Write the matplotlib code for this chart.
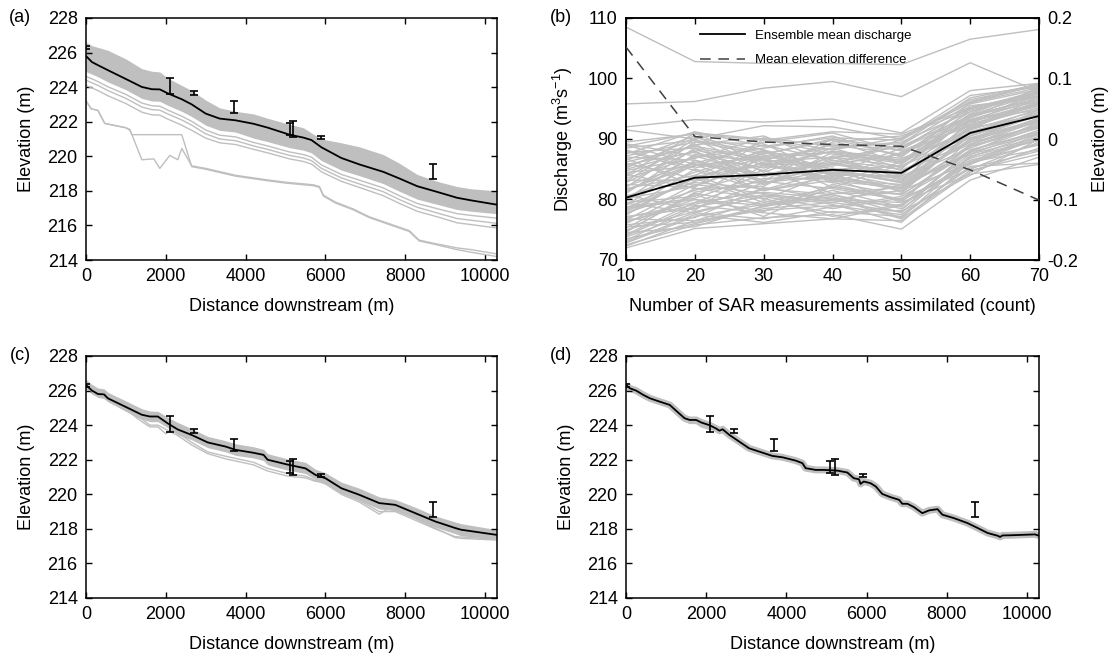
import matplotlib
matplotlib.use("Agg")
import matplotlib.pyplot as plt
from matplotlib.lines import Line2D

plt.rcParams['font.family'] = ['Liberation Sans', 'DejaVu Sans']
plt.rcParams['mathtext.default'] = 'regular'
plt.rcParams['axes.unicode_minus'] = False

# ---------------- data ----------------
DIST_A = [0, 150, 300, 550, 1000, 1400, 1650, 1850, 2050, 2400, 2650, 3000, 3350, 3750, 4200,
          4550, 5100, 5450, 5650, 5900, 6400, 6850, 7450, 7850, 8300, 8800, 9300, 9650, 10300]
MEAN_A = [225.80, 225.45, 225.27, 224.98, 224.47, 224.01, 223.88, 223.87, 223.64, 223.30, 223.0,
          222.47, 222.18, 222.08, 221.88, 221.66, 221.25, 221.08, 220.94, 220.52, 219.90, 219.53,
          219.10, 218.72, 218.27, 217.94, 217.60, 217.45, 217.2]
UPPER_A = [226.6, 226.4, 226.3, 226.13, 225.63, 225.07, 224.92, 224.88, 224.52, 224.1, 223.8,
           223.25, 222.8, 222.6, 222.45, 222.2, 221.85, 221.65, 221.35, 221.0, 220.78, 220.55,
           220.1, 219.6, 218.95, 218.55, 218.25, 218.12, 218.0]
LOWER_A = [224.9, 224.75, 224.6, 224.3, 223.85, 223.35, 223.2, 223.18, 222.95, 222.6, 222.3,
           221.8, 221.5, 221.4, 221.05, 220.85, 220.5, 220.35, 220.2, 219.75, 219.2, 218.88,
           218.42, 217.98, 217.52, 217.22, 216.92, 216.82, 216.68]
MEMBER_A1 = [224.62, 224.48, 224.32, 224.02, 223.58, 223.08, 222.92, 222.9, 222.67, 222.32, 222.02,
             221.52, 221.22, 221.12, 220.8, 220.6, 220.25, 220.1, 219.95, 219.5, 218.95, 218.62,
             218.17, 217.72, 217.27, 216.97, 216.68, 216.58, 216.42]
MEMBER_A2 = [224.4, 224.25, 224.1, 223.8, 223.35, 222.85, 222.7, 222.67, 222.45, 222.1, 221.8,
             221.3, 221.0, 220.9, 220.6, 220.4, 220.05, 219.9, 219.75, 219.3, 218.75, 218.4,
             217.95, 217.5, 217.05, 216.72, 216.4, 216.3, 216.12]
MEMBER_A3 = [224.1, 223.95, 223.8, 223.5, 223.05, 222.55, 222.4, 222.38, 222.15, 221.8, 221.5,
             221.05, 220.78, 220.68, 220.4, 220.2, 219.85, 219.7, 219.55, 219.1, 218.55, 218.2,
             217.72, 217.28, 216.82, 216.5, 216.15, 216.05, 215.85]
OUT1_X = [0, 130, 300, 470, 1000, 1100, 1150, 2400, 2650, 3000, 3750, 4500, 5000, 5700, 5850,
          5950, 6250, 6700, 7100, 7600, 8100, 8350, 8750, 9300, 9650, 10300]
OUT1_Y = [223.2, 222.75, 222.65, 221.9, 221.65, 221.5, 221.25, 221.25, 219.4, 219.25, 218.85,
          218.6, 218.45, 218.3, 218.2, 217.7, 217.3, 216.9, 216.45, 216.05, 215.65, 215.1,
          214.9, 214.6, 214.45, 214.2]
OUT2_X = [0, 130, 300, 470, 1000, 1100, 1400, 1700, 1850, 2100, 2300, 2400, 2650, 3000, 3750,
          4500, 5000, 5700, 5850, 5950, 6250, 6700, 7100, 7600, 8100, 8350, 8750, 9300, 9650, 10300]
OUT2_Y = [223.2, 222.75, 222.65, 221.9, 221.65, 221.55, 219.8, 219.85, 219.3, 220.05, 219.8,
          220.45, 219.45, 219.3, 218.9, 218.65, 218.5, 218.35, 218.25, 217.75, 217.35, 216.95,
          216.5, 216.1, 215.7, 215.15, 214.95, 214.7, 214.6, 214.35]

DIST_C = [0, 150, 300, 450, 550, 1000, 1400, 1600, 1800, 2050, 2300, 2650, 3050, 3500, 3750,
          4200, 4450, 4550, 5050, 5500, 5750, 6000, 6400, 6850, 7350, 7750, 8250, 8750, 9250,
          9400, 10300]
MEAN_C = [226.32, 226.0, 225.8, 225.78, 225.55, 225.05, 224.6, 224.5, 224.5, 224.1, 223.75,
          223.43, 223.0, 222.76, 222.57, 222.4, 222.28, 222.0, 221.72, 221.5, 221.12, 220.93,
          220.35, 219.97, 219.49, 219.39, 218.91, 218.43, 218.05, 217.95, 217.65]
UPPER_C = [226.65, 226.35, 226.15, 226.1, 225.9, 225.4, 224.95, 224.82, 224.8, 224.45, 224.15,
           223.8, 223.35, 223.1, 222.92, 222.75, 222.6, 222.35, 222.05, 221.85, 221.45, 221.25,
           220.7, 220.35, 219.85, 219.7, 219.25, 218.75, 218.4, 218.3, 217.95]
LOWER_C = [226.1, 225.8, 225.6, 225.55, 225.35, 224.8, 224.35, 224.2, 224.2, 223.85, 223.45,
           223.15, 222.7, 222.45, 222.25, 222.1, 221.95, 221.7, 221.4, 221.2, 220.85, 220.62,
           220.05, 219.65, 219.15, 219.05, 218.6, 218.1, 217.72, 217.6, 217.4]
MEMBER_C1_X = [0, 1000, 1400, 1600, 1800, 2000, 2150, 2300, 2650, 3050, 3500, 4200, 4550, 5050,
               5500, 5750, 6000, 6400, 6850, 7350, 7600, 7750, 8250, 8750, 9250, 9400, 10300]
MEMBER_C1_Y = [226.2, 224.9, 224.2, 223.9, 223.9, 223.5, 223.7, 223.55, 223.0, 222.45, 222.2,
               221.85, 221.5, 221.2, 221.05, 220.8, 220.6, 220.0, 219.55, 218.85, 219.2, 219.1,
               218.6, 218.05, 217.5, 217.45, 217.35]
MEMBER_C2_X = [0, 1000, 1400, 1600, 1800, 2050, 2300, 2650, 3050, 3500, 4200, 4550, 5050, 5500,
               5750, 6000, 6400, 6850, 7350, 7750, 8250, 8750, 9250, 10300]
MEMBER_C2_Y = [226.15, 224.85, 224.35, 224.0, 224.0, 223.7, 223.4, 222.85, 222.35, 222.05,
               221.7, 221.35, 221.05, 220.95, 220.75, 220.7, 220.1, 219.65, 219.0, 219.0, 218.5,
               218.0, 217.55, 217.4]

DIST_D = [0, 100, 260, 430, 600, 840, 1090, 1300, 1460, 1590, 1750, 1880, 2080, 2250, 2330, 2410,
          2580, 2740, 3070, 3400, 3650, 3900, 4230, 4400, 4480, 4730, 4930, 5270, 5520, 5680,
          5810, 5850, 5930, 6100, 6230, 6390, 6600, 6810, 6890, 7020, 7180, 7390, 7560, 7770,
          7890, 8180, 8520, 8770, 9020, 9270, 9330, 9390, 9600, 10200, 10300]
MEAN_D = [226.32, 226.13, 225.99, 225.75, 225.55, 225.36, 225.17, 224.73, 224.4, 224.3, 224.3,
          224.15, 224.0, 223.8, 223.68, 223.76, 223.43, 223.18, 222.66, 222.41, 222.22, 222.14,
          221.95, 221.8, 221.51, 221.41, 221.41, 221.37, 221.26, 220.93, 220.87, 220.6, 220.74,
          220.64, 220.45, 220.02, 219.83, 219.68, 219.45, 219.45, 219.26, 218.91, 219.07, 219.14,
          218.82, 218.62, 218.33, 218.05, 217.76, 217.6, 217.53, 217.62, 217.63, 217.68, 217.6]
MEMBER_D1_X = [1300, 1460, 1590, 1750, 1880, 2080, 2250, 2330, 2410, 2580, 2740]
MEMBER_D1_Y = [224.65, 224.25, 224.1, 224.1, 223.9, 223.75, 223.75, 223.5, 223.6, 223.3, 223.05]

OBS_X = [0, 2100, 2700, 3700, 5100, 5200, 5900, 8700]
OBS_Y = [226.3, 224.08, 223.67, 222.86, 221.6, 221.57, 221.1, 219.13]
OBS_ERR = [0.07, 0.45, 0.1, 0.33, 0.35, 0.47, 0.1, 0.45]

N_SAR = [10, 20, 30, 40, 50, 60, 70]
Q_MEAN = [80.3, 83.6, 84.1, 84.9, 84.4, 91.0, 93.8]
ELEV_DIFF = [0.152, 0.004, -0.005, -0.009, -0.012, -0.051, -0.101]
Q_MEMBERS = [
    [72.0, 75.2, 76.0, 76.8, 76.5, 84.5, 88.5], [72.5, 75.8, 77.0, 77.5, 75.1, 83.2, 87.0],
    [73.0, 77.5, 76.2, 78.0, 77.2, 85.5, 86.0], [73.5, 76.0, 78.5, 79.5, 78.0, 84.0, 90.0],
    [74.0, 79.0, 77.8, 76.8, 79.0, 86.5, 89.0], [74.5, 75.5, 79.0, 80.5, 77.0, 87.0, 91.0],
    [75.0, 78.0, 80.5, 78.5, 80.2, 85.0, 89.5], [75.3, 81.0, 79.2, 81.5, 78.8, 88.0, 92.0],
    [75.8, 77.0, 82.0, 80.0, 81.5, 86.0, 90.5], [76.2, 80.0, 78.0, 82.5, 80.0, 89.0, 93.0],
    [76.6, 82.5, 81.0, 79.5, 82.5, 87.5, 91.5], [77.0, 79.5, 83.5, 83.5, 79.5, 90.0, 94.0],
    [77.4, 84.0, 80.0, 84.5, 83.5, 88.5, 92.5], [77.8, 81.5, 84.8, 81.0, 81.0, 91.0, 95.0],
    [78.2, 85.0, 82.5, 86.0, 84.5, 89.5, 93.5], [78.6, 83.0, 86.0, 83.0, 82.0, 92.0, 96.0],
    [79.0, 86.5, 83.8, 87.0, 85.5, 90.5, 94.5], [79.5, 80.5, 87.2, 85.0, 83.0, 93.0, 95.5],
    [80.0, 87.5, 85.2, 88.0, 86.5, 91.5, 97.0], [80.5, 84.5, 88.0, 84.0, 84.0, 94.0, 96.5],
    [81.0, 88.5, 86.5, 89.0, 87.5, 92.5, 98.0], [81.5, 86.0, 89.0, 86.5, 85.0, 95.0, 97.5],
    [82.0, 89.5, 87.5, 90.0, 88.5, 93.5, 98.5], [82.5, 82.0, 90.0, 87.5, 86.0, 96.0, 99.0],
    [83.0, 90.0, 84.5, 88.5, 89.5, 94.5, 97.8], [83.5, 87.0, 88.5, 90.5, 87.0, 95.5, 96.8],
    [84.0, 91.0, 86.0, 85.5, 90.0, 96.5, 98.8], [84.5, 85.5, 89.5, 91.0, 88.0, 92.8, 95.8],
    [85.0, 88.0, 83.0, 89.5, 90.5, 94.8, 97.2], [85.5, 89.0, 90.5, 86.0, 89.0, 95.8, 98.2],
    [86.0, 83.5, 87.0, 82.0, 85.8, 93.2, 94.8], [86.5, 90.5, 85.5, 88.0, 86.8, 90.8, 93.8],
    [87.0, 86.5, 82.8, 84.8, 82.8, 89.8, 92.8], [87.5, 91.2, 88.8, 90.2, 89.8, 96.2, 99.2],
    [88.0, 84.8, 81.5, 83.8, 81.8, 88.8, 91.8], [88.5, 89.8, 87.8, 86.8, 88.8, 93.8, 96.2],
    [89.0, 85.8, 84.2, 82.8, 80.8, 87.8, 90.8], [89.5, 90.8, 89.8, 91.2, 90.8, 95.2, 97.6],
    [73.2, 78.8, 80.8, 79.2, 76.2, 86.2, 88.2], [74.8, 80.8, 77.2, 82.2, 79.8, 85.8, 90.2],
    [76.8, 76.5, 79.8, 77.8, 78.2, 88.2, 91.2], [79.2, 82.8, 81.8, 80.8, 77.8, 87.2, 89.8],
    [80.8, 78.2, 85.8, 84.2, 83.8, 89.2, 92.2], [82.2, 86.2, 83.2, 85.2, 81.2, 91.2, 94.2],
    [84.2, 81.8, 82.2, 87.8, 84.8, 90.2, 93.2], [86.2, 88.8, 86.8, 83.2, 87.8, 92.2, 95.2],
    [72.3, 76.5, 78.2, 79.0, 77.5, 85.2, 88.0], [73.8, 77.8, 76.8, 78.8, 80.5, 86.8, 89.8],
    [74.2, 79.5, 81.2, 80.2, 76.8, 84.8, 87.5], [75.5, 76.2, 78.8, 81.0, 82.0, 87.8, 92.8],
    [76.0, 81.8, 80.2, 77.2, 79.2, 86.2, 90.8], [77.2, 78.5, 82.8, 84.0, 81.8, 90.5, 93.8],
    [78.0, 83.5, 79.5, 82.0, 80.8, 88.2, 91.0], [78.8, 80.2, 84.2, 85.8, 84.2, 91.8, 95.8],
    [79.8, 85.8, 81.5, 83.2, 82.5, 89.8, 94.8], [80.2, 82.2, 86.8, 88.5, 85.2, 93.5, 97.2],
    [81.2, 87.2, 84.0, 86.2, 83.2, 92.2, 96.2], [81.8, 84.0, 88.2, 82.8, 86.2, 94.2, 98.2],
    [82.8, 88.2, 85.8, 89.2, 88.2, 95.2, 97.0], [83.2, 83.2, 87.8, 84.5, 82.2, 90.0, 93.0],
    [83.8, 89.2, 82.5, 87.2, 86.5, 93.0, 96.0], [84.8, 86.8, 90.2, 88.8, 89.2, 96.8, 99.0],
    [85.2, 90.2, 88.2, 85.0, 85.5, 91.8, 94.0], [85.8, 87.8, 84.8, 90.0, 87.2, 94.0, 97.5],
    [86.8, 82.2, 86.2, 87.0, 83.5, 89.5, 92.0], [87.2, 89.5, 89.2, 84.2, 88.5, 95.0, 98.0],
    [87.8, 88.5, 83.8, 86.5, 84.0, 92.5, 95.5], [88.2, 85.2, 87.5, 89.8, 86.0, 93.2, 96.5],
    [88.8, 91.0, 90.0, 88.2, 90.2, 96.0, 98.5], [89.2, 87.2, 86.5, 85.8, 87.5, 94.5, 97.8],
    [72.8, 77.2, 79.2, 80.8, 78.5, 86.0, 89.2], [74.6, 81.2, 83.0, 81.8, 80.0, 88.8, 92.2],
    [76.4, 79.2, 81.6, 84.8, 82.8, 91.5, 94.8], [77.6, 83.8, 85.6, 83.6, 81.5, 89.0, 93.5],
    [79.4, 77.8, 80.6, 79.8, 79.0, 87.5, 90.2], [81.6, 85.6, 87.2, 87.8, 86.2, 93.8, 96.8],
    [78.5, 80.0, 79.0, 80.0, 79.5, 84.2, 85.8],
    [92.0, 93.2, 92.8, 93.3, 91.0, 98.0, 99.2], [95.8, 96.2, 98.4, 99.5, 97.0, 102.6, 97.8],
    [108.5, 102.8, 102.5, 102.5, 102.3, 106.5, 108.1], [91.5, 90.0, 92.2, 92.0, 90.0, 97.2, 98.6],
]

ELEV_TICKS = [214, 216, 218, 220, 222, 224, 226, 228]
DIST_TICKS = [0, 2000, 4000, 6000, 8000, 10000]
Q_TICKS = [70, 80, 90, 100, 110]
R_TICKS = [-0.2, -0.1, 0.0, 0.1, 0.2]
R_TICK_LABELS = ['-0.2', '-0.1', '0', '0.1', '0.2']

# ---------------- style ----------------
GRAY = '#bfbfbf'
FS = 13
W, H = 1114, 655
fig = plt.figure(figsize=(W / 100, H / 100), dpi=100)


def px_axes(l, r, t, b):
    return fig.add_axes([l / W, 1 - b / H, (r - l) / W, (b - t) / H])


def style(ax):
    ax.tick_params(direction='in', length=4, width=1, labelsize=FS, top=True, right=True, pad=6)
    for s in ax.spines.values():
        s.set_linewidth(1.1)


def profile_axes(ax):
    ax.set_xlim(0, 10300)
    ax.set_ylim(214, 228)
    ax.set_xticks(DIST_TICKS)
    ax.set_yticks(ELEV_TICKS)
    ax.set_xlabel('Distance downstream (m)', fontsize=FS, labelpad=9)
    ax.set_ylabel('Elevation (m)', fontsize=FS, labelpad=9)
    style(ax)


def obs(ax):
    ax.errorbar(OBS_X, OBS_Y, yerr=OBS_ERR, fmt='none', ecolor='black', elinewidth=1.2,
                capsize=3.2, capthick=1.2, zorder=6)


LA, RA, LB, RB = 86, 497, 626, 1039
T1, B1, T2, B2 = 18, 260, 356, 598

# (a)
ax = px_axes(LA, RA, T1, B1)
ax.fill_between(DIST_A, LOWER_A, UPPER_A, color=GRAY, lw=0, zorder=1)
for m in (MEMBER_A1, MEMBER_A2, MEMBER_A3):
    ax.plot(DIST_A, m, color=GRAY, lw=1.0, zorder=2)
ax.plot(OUT1_X, OUT1_Y, color=GRAY, lw=1.0, zorder=2)
ax.plot(OUT2_X, OUT2_Y, color=GRAY, lw=1.0, zorder=2)
ax.plot(DIST_A, MEAN_A, color='black', lw=1.3, zorder=5)
obs(ax)
profile_axes(ax)

# (c)
ax = px_axes(LA, RA, T2, B2)
ax.fill_between(DIST_C, LOWER_C, UPPER_C, color=GRAY, lw=0, zorder=1)
ax.plot(MEMBER_C1_X, MEMBER_C1_Y, color=GRAY, lw=1.0, zorder=2)
ax.plot(MEMBER_C2_X, MEMBER_C2_Y, color=GRAY, lw=1.0, zorder=2)
ax.plot(DIST_C, MEAN_C, color='black', lw=1.3, zorder=5)
obs(ax)
profile_axes(ax)

# (d)
ax = px_axes(LB, RB, T2, B2)
ax.plot(DIST_D, MEAN_D, color=GRAY, lw=5, solid_capstyle='butt', zorder=1)
ax.plot(MEMBER_D1_X, MEMBER_D1_Y, color=GRAY, lw=1.0, zorder=2)
ax.plot(DIST_D, MEAN_D, color='black', lw=1.3, zorder=5)
obs(ax)
profile_axes(ax)

# (b)
axb = px_axes(LB, RB, T1, B1)
for m in Q_MEMBERS:
    axb.plot(N_SAR, m, color=GRAY, lw=1.0, zorder=1)
axb.plot(N_SAR, Q_MEAN, color='black', lw=1.3, zorder=5)
axb.set_xlim(10, 70)
axb.set_ylim(70, 110)
axb.set_xticks(N_SAR)
axb.set_yticks(Q_TICKS)
axb.set_xlabel('Number of SAR measurements assimilated (count)', fontsize=FS, labelpad=9)
axb.set_ylabel('Discharge (m$^{3}$s$^{-1}$)', fontsize=FS, labelpad=9)
style(axb)
axb.tick_params(right=False)
ax2 = axb.twinx()
ax2.plot(N_SAR, ELEV_DIFF, color='#404040', lw=1.1, ls=(0, (7, 5)), zorder=4)
ax2.set_ylim(-0.2, 0.2)
ax2.set_yticks(R_TICKS)
ax2.set_yticklabels(R_TICK_LABELS)
ax2.set_ylabel('Elevation (m)', fontsize=FS, labelpad=10)
ax2.tick_params(direction='in', length=4, width=1, labelsize=FS, pad=6)
for s in ax2.spines.values():
    s.set_linewidth(1.1)
handles = [Line2D([], [], color='black', lw=1.3),
           Line2D([], [], color='#404040', lw=1.1, ls=(0, (7, 5)))]
axb.legend(handles, ['Ensemble mean discharge', 'Mean elevation difference'],
           loc='upper left', bbox_to_anchor=(0.15, 1.0), frameon=False, fontsize=9.5,
           handlelength=3.4, labelspacing=0.9)

# panel letters
for lab, xp, yp in (('(a)', 20, T1), ('(b)', 561, T1), ('(c)', 20, T2), ('(d)', 561, T2)):
    fig.text(xp / W, 1 - yp / H, lab, fontsize=FS, ha='center', va='center')

fig.savefig('out.png', dpi=100)
